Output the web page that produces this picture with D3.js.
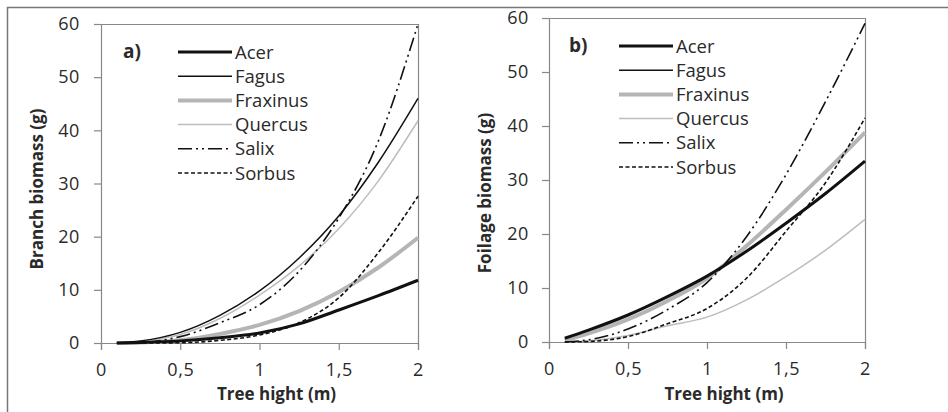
<!DOCTYPE html>
<html>
<head>
<meta charset="utf-8">
<script src="https://cdn.jsdelivr.net/npm/d3@7"></script>
<style>
  body { margin: 0; background: #fff; }
  text { font-family: "Open Sans", "Noto Sans", sans-serif; fill: #2a2a2a; }
</style>
</head>
<body>
<div class="chart"></div>
<script>
// tree heights (m) the curves were read at
const heights = [0.1, 0.25, 0.5, 0.75, 1, 1.25, 1.5, 1.75, 2]
const species = ['Acer', 'Fagus', 'Fraxinus', 'Quercus', 'Salix', 'Sorbus']

// a) branch biomass (g)
const acerA = [0, 0.1, 0.4, 1.0, 1.9, 3.6, 6.2, 8.9, 11.8]
const fagusA = [0.05, 0.4, 2.0, 5.2, 9.8, 16, 23.9, 34, 46]
const fraxinusA = [0, 0.1, 0.5, 1.7, 3.4, 6.0, 9.6, 14.2, 19.8]
const quercusA = [0, 0.3, 1.6, 4.6, 9.0, 14.5, 21.5, 30.5, 41.8]
const salixA = [0, 0.1, 1.2, 3.8, 7.2, 13.5, 23.5, 38, 60]
const sorbusA = [0, 0, 0.05, 0.5, 1.5, 3.8, 8.5, 17, 27.6]

// b) foilage biomass (g) - Fagus is not visible in this panel
const acerB = [0.7, 2.2, 5.0, 8.4, 12.2, 16.8, 22, 27.5, 33.5]
const fagusB = null
const fraxinusB = [0.3, 1.6, 4.2, 7.6, 11.8, 17.8, 24.5, 31.5, 38.8]
const quercusB = [0, 0.2, 1.2, 3.0, 4.6, 7.8, 12.1, 17.0, 22.7]
const salixB = [0, 0.4, 2.4, 6.0, 11.0, 19.5, 31, 44.5, 59]
const sorbusB = [0, 0.1, 1.0, 3.4, 6.2, 11.8, 20.5, 29.5, 41.5]

const xTicks = [0, 0.5, 1, 1.5, 2]
const yTicks = [0, 10, 20, 30, 40, 50, 60]

const styles = {
    Acer: { color: '#111', width: 3, dash: null },
    Fagus: { color: '#111', width: 1.5, dash: null },
    Fraxinus: { color: '#b5b5b5', width: 4, dash: null },
    Quercus: { color: '#bdbdbd', width: 1.5, dash: null },
    Salix: { color: '#111', width: 1.6, dash: '14,4,2,4,2,4' },
    Sorbus: { color: '#111', width: 1.6, dash: '4,2.5' }
}

const width = 948
const height = 412

const svg = d3.select('.chart')
    .append('svg')
    .attr('width', width)
    .attr('height', height)

// outer frame (top and left only)
svg.append('path')
    .attr('d', 'M7.5,412V7.5H948')
    .attr('fill', 'none')
    .attr('stroke', '#777')
    .attr('stroke-width', 1.5)

const drawPanel = (cfg) => {
    const x = d3.scaleLinear().domain([0, 2]).range([cfg.left, cfg.right])
    const y = d3.scaleLinear().domain([0, 60]).range([cfg.bottom, cfg.top])
    const g = svg.append('g')

    // plot box top + right
    g.append('path')
        .attr('d', `M${cfg.left},${cfg.top + 0.5}H${cfg.right + 0.5}V${cfg.bottom}`)
        .attr('fill', 'none')
        .attr('stroke', '#888')
        .attr('stroke-width', 1.2)

    const xAxis = g.append('g')
        .attr('transform', `translate(0,${cfg.bottom})`)
        .call(d3.axisBottom(x).tickValues(xTicks).tickSize(7).tickPadding(13)
            .tickFormat(d => String(d).replace('.', ',')))
    const yAxis = g.append('g')
        .attr('transform', `translate(${cfg.left},0)`)
        .call(d3.axisLeft(y).tickValues(yTicks).tickSize(7).tickPadding(cfg.yPad))

    ;[xAxis, yAxis].forEach(a => {
        a.select('.domain').attr('stroke', '#888').attr('stroke-width', 1.2)
        a.selectAll('.tick line').attr('stroke', '#888').attr('stroke-width', 1.2)
        a.selectAll('.tick text')
            .style('font-family', '"Open Sans", sans-serif')
            .style('font-size', '18px')
            .style('letter-spacing', '0.6px')
            .attr('fill', '#2a2a2a')
    })

    g.append('text')
        .attr('x', (cfg.left + cfg.right) / 2 + 17)
        .attr('y', 400)
        .attr('text-anchor', 'middle')
        .style('font-size', '17px')
        .style('font-weight', 'bold')
        .text('Tree hight (m)')

    g.append('text')
        .attr('transform', `translate(${cfg.titleX},${cfg.titleY}) rotate(-90)`)
        .attr('text-anchor', 'middle')
        .style('font-size', '17px')
        .style('font-weight', 'bold')
        .text(cfg.yTitle)

    const line = d3.line()
        .x((d, i) => x(heights[i]))
        .y(d => y(d))
        .curve(d3.curveMonotoneX)

    // draw grey ones first so the black ones sit on top
    const order = ['Fraxinus', 'Quercus', 'Sorbus', 'Salix', 'Fagus', 'Acer']
    order.forEach(name => {
        const values = cfg.series[name]
        if (!values) return
        const s = styles[name]
        g.append('path')
            .datum(values)
            .attr('d', line)
            .attr('fill', 'none')
            .attr('stroke', s.color)
            .attr('stroke-width', s.width)
            .attr('stroke-dasharray', s.dash)
    })

    // panel letter
    g.append('text')
        .attr('x', cfg.letterX)
        .attr('y', cfg.legendY + 6)
        .style('font-size', '19px')
        .style('font-weight', 'bold')
        .text(cfg.letter)

    // legend
    species.forEach((name, i) => {
        const s = styles[name]
        const ly = cfg.legendY + i * 24.2
        g.append('line')
            .attr('x1', cfg.legendX)
            .attr('x2', cfg.legendX + 54)
            .attr('y1', ly)
            .attr('y2', ly)
            .attr('stroke', s.color)
            .attr('stroke-width', s.width)
            .attr('stroke-dasharray', s.dash)
        g.append('text')
            .attr('x', cfg.legendX + 57)
            .attr('y', ly + 6.5)
            .style('font-size', '18.5px')
            .text(name)
    })
}

drawPanel({
    left: 101, right: 418, top: 24, bottom: 343, yPad: 14,
    titleX: 43, titleY: 189, yTitle: 'Branch biomass (g)',
    letter: 'a)', letterX: 123, legendX: 178, legendY: 52,
    series: { Acer: acerA, Fagus: fagusA, Fraxinus: fraxinusA, Quercus: quercusA, Salix: salixA, Sorbus: sorbusA }
})

drawPanel({
    left: 549, right: 865, top: 18, bottom: 342, yPad: 13,
    titleX: 491, titleY: 193, yTitle: 'Foilage biomass (g)',
    letter: 'b)', letterX: 569, legendX: 619, legendY: 46,
    series: { Acer: acerB, Fagus: fagusB, Fraxinus: fraxinusB, Quercus: quercusB, Salix: salixB, Sorbus: sorbusB }
})
</script>
</body>
</html>
